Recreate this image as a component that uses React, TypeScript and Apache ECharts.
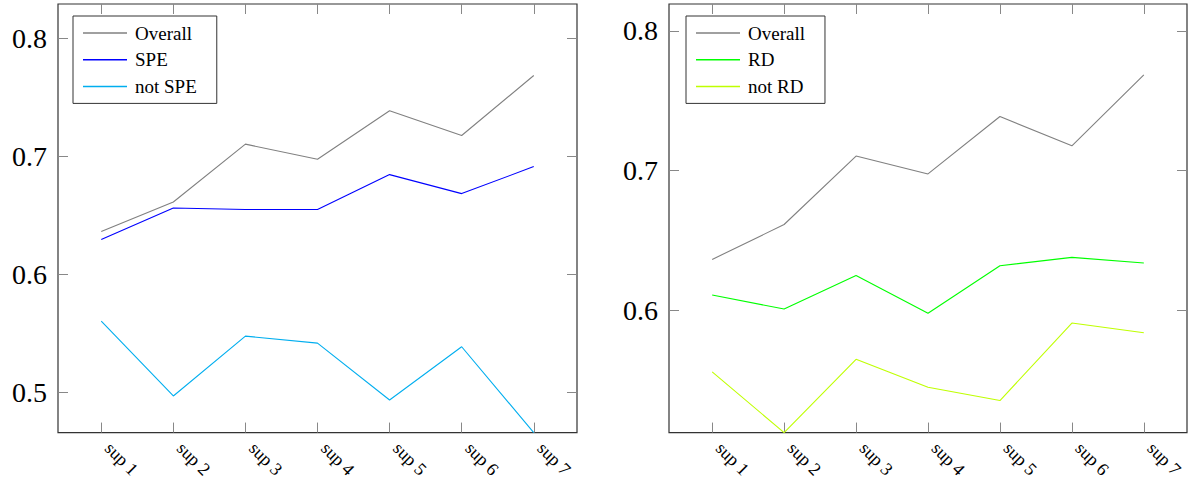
import React, { useEffect, useRef } from "react";
import * as echarts from "echarts";

const categories = ["sup 1", "sup 2", "sup 3", "sup 4", "sup 5", "sup 6", "sup 7"];
const overall = [0.6365, 0.6615, 0.7105, 0.6977, 0.7388, 0.7178, 0.7686];
const spe = [0.6297, 0.6564, 0.6552, 0.6552, 0.6847, 0.6686, 0.6915];
const notSpe = [0.5606, 0.4972, 0.5479, 0.542, 0.4938, 0.5389, 0.4662];
const rd = [0.611, 0.601, 0.625, 0.598, 0.632, 0.638, 0.634];
const notRd = [0.556, 0.5126, 0.565, 0.545, 0.5355, 0.591, 0.584];
const leftYTicks = [0.5, 0.6, 0.7, 0.8];
const rightYTicks = [0.6, 0.7, 0.8];
const leftYRange = [0.4662, 0.8292];
const rightYRange = [0.5126, 0.8193];

const SERIF = "Liberation Serif";
const xPositions = categories.map((_, i) => i + 1);

function pairs(values: number[]) {
  return values.map((v, i) => [i + 1, v]);
}

function xAxes(gridIndex: number) {
  const base = {
    type: "value" as const,
    gridIndex,
    min: 0.4,
    max: 7.6,
    splitLine: { show: false },
    axisLine: { show: false },
  };
  return [
    {
      ...base,
      position: "bottom",
      axisTick: {
        show: true,
        inside: true,
        length: 10,
        customValues: xPositions,
        lineStyle: { color: "#888", width: 1 },
      },
      axisLabel: {
        show: true,
        customValues: xPositions,
        rotate: -45,
        margin: 6,
        padding: [0, 0, 15, 9.5],
        fontFamily: SERIF,
        fontSize: 18,
        color: "#000",
        formatter: (v: number) => categories[Math.round(v) - 1] ?? "",
      },
    },
    {
      ...base,
      position: "top",
      axisTick: {
        show: true,
        inside: true,
        length: 10,
        customValues: xPositions,
        lineStyle: { color: "#888", width: 1 },
      },
      axisLabel: { show: false },
    },
  ];
}

function yAxes(gridIndex: number, range: number[], ticks: number[]) {
  const base = {
    type: "value" as const,
    gridIndex,
    min: range[0],
    max: range[1],
    splitLine: { show: false },
    axisLine: { show: false },
  };
  return [
    {
      ...base,
      position: "left",
      axisTick: {
        show: true,
        inside: true,
        length: 10,
        customValues: ticks,
        lineStyle: { color: "#888", width: 1 },
      },
      axisLabel: {
        show: true,
        customValues: ticks,
        margin: 11,
        fontFamily: SERIF,
        fontSize: 28,
        color: "#000",
        formatter: (v: number) => v.toFixed(1),
      },
    },
    {
      ...base,
      position: "right",
      axisTick: {
        show: true,
        inside: true,
        length: 10,
        customValues: ticks,
        lineStyle: { color: "#888", width: 1 },
      },
      axisLabel: { show: false },
    },
  ];
}

function line(name: string, values: number[], color: string, xAxisIndex: number, yAxisIndex: number) {
  return {
    type: "line",
    name,
    data: pairs(values),
    xAxisIndex,
    yAxisIndex,
    color,
    showSymbol: false,
    symbol: "none",
    clip: false,
    lineStyle: { color, width: 1.1 },
    emphasis: { disabled: true },
  };
}

function legend(left: number, names: string[]) {
  return {
    left,
    top: 16,
    orient: "vertical",
    data: names,
    selectedMode: false,
    icon: "rect",
    itemWidth: 44,
    itemHeight: 1.5,
    itemGap: 6.7,
    padding: [7, 20, 7, 10],
    borderColor: "#333",
    borderWidth: 1,
    backgroundColor: "#fff",
    textStyle: {
      fontFamily: SERIF,
      fontSize: 19,
      lineHeight: 20,
      color: "#000",
      padding: [0, 0, 0, 3],
    },
  };
}

export default function App() {
  const ref = useRef<HTMLDivElement>(null);
  useEffect(() => {
    if (!ref.current) return;
    const chart = echarts.init(ref.current, null, { renderer: "svg" });
    chart.setOption({
      animation: false,
      backgroundColor: "#fff",
      textStyle: { fontFamily: SERIF },
      grid: [
        { left: 58, top: 4, width: 519, height: 429, show: true, borderColor: "#333", borderWidth: 1.2, backgroundColor: "transparent" },
        { left: 669, top: 4, width: 518, height: 429, show: true, borderColor: "#333", borderWidth: 1.2, backgroundColor: "transparent" },
      ],
      xAxis: [...xAxes(0), ...xAxes(1)],
      yAxis: [...yAxes(0, leftYRange, leftYTicks), ...yAxes(1, rightYRange, rightYTicks)],
      legend: [legend(73, ["Overall", "SPE", "not SPE"]), legend(686, ["Overall", "RD", "not RD"])],
      series: [
        line("Overall", overall, "#808080", 0, 0),
        line("SPE", spe, "#0000ff", 0, 0),
        line("not SPE", notSpe, "#00aeef", 0, 0),
        line("Overall", overall, "#808080", 2, 2),
        line("RD", rd, "#00ff00", 2, 2),
        line("not RD", notRd, "#bfff00", 2, 2),
      ],
    });
    return () => chart.dispose();
  }, []);
  return (
    <div
      ref={ref}
      style={{ position: "absolute", left: 0, top: 0, width: 1193, height: 481 }}
    />
  );
}
